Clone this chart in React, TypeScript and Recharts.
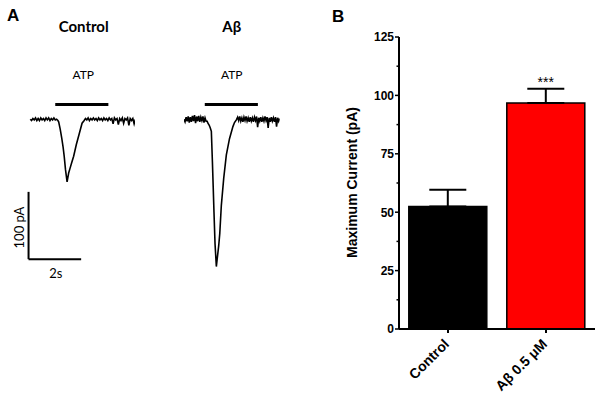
import React from 'react';
import {
  LineChart,
  Line,
  XAxis,
  YAxis,
  ReferenceLine,
  BarChart,
  Bar,
  Cell,
  ErrorBar,
  LabelList,
} from 'recharts';

// ---------- Panel A: ATP-evoked current traces (time in s, current in pA) ----------
const controlTime = [
  0, 0.05, 0.1, 0.15, 0.2, 0.25, 0.3, 0.35, 0.4, 0.45, 0.5, 0.55, 0.6, 0.65, 0.7, 0.75, 0.8, 0.85, 0.9, 0.95, 1.0,
  1.05, 1.08, 1.14, 1.2, 1.25, 1.29, 1.34, 1.4, 1.46, 1.52, 1.58, 1.65, 1.75, 1.86, 1.97, 2.05,
  2.1, 2.15, 2.2, 2.25, 2.3, 2.35, 2.4, 2.45, 2.5, 2.55, 2.6, 2.65, 2.7, 2.75, 2.8, 2.85, 2.9, 2.95, 3.0, 3.05,
  3.1, 3.15, 3.2, 3.25, 3.3, 3.35, 3.4, 3.45, 3.5, 3.55, 3.6, 3.65, 3.7, 3.75, 3.8, 3.85, 3.9, 3.95, 4.0,
];
const controlCurrent = [
  0, -2, 1, -1, 2, -2, 1, -2, 2, -1, 1, -2, 2, -1, 2, -2, 1, -1, 2, -1, 0,
  -2, -4, -15, -29, -42, -55, -75, -93, -80, -72, -64, -55, -38, -22, -6, -2,
  1, -1, 2, -2, 1, -1, 2, -1, 1, -2, 2, -1, 1, -2, 2, -1, 1, -2, 2, -1,
  1, -7, 2, -1, 1, -8, 1, -2, 2, -6, 1, -1, 2, -9, 1, -2, 1, -7, 0,
];

const abTime = [
  0, 0.04, 0.08, 0.12, 0.16, 0.2, 0.24, 0.28, 0.32, 0.36, 0.4, 0.44, 0.48, 0.52, 0.56, 0.6, 0.64, 0.68, 0.72, 0.76, 0.8, 0.84,
  0.88, 0.91, 0.96, 1.0, 1.04, 1.08, 1.11, 1.14, 1.18, 1.23, 1.27, 1.32, 1.36, 1.42, 1.51, 1.61, 1.73, 1.86, 1.92, 1.99,
  2.04, 2.08, 2.12, 2.16, 2.2, 2.24, 2.28, 2.32, 2.36, 2.4, 2.44, 2.48, 2.52, 2.56, 2.6, 2.64, 2.68, 2.72, 2.76, 2.8,
  2.84, 2.88, 2.92, 2.96, 3.0, 3.04, 3.08, 3.12, 3.16, 3.2, 3.24, 3.28, 3.32, 3.36, 3.4, 3.44, 3.48, 3.52, 3.56, 3.6, 3.64,
];
const abCurrent = [
  0, -4, 3, -3, 4, -5, 3, -4, 5, -3, 6, -6, 4, -3, 5, -4, 3, -2, 4, -5, 2, -3,
  -3, -6, -9, -13, -18, -63, -100, -138, -185, -219, -205, -188, -170, -128, -88, -53, -29, -11, -5, -1,
  3, -2, 4, -3, 2, -4, 3, -2, 4, -3, 2, -4, 3, -3, 2, -4, 3, -2, 4, -12,
  2, -3, 3, -4, 2, -3, 4, -2, 3, -13, 2, -4, 3, -3, 2, -4, 3, -11, 2, -3, 1,
];

const atpControl = [0.95, 2.97]; // s
const atpAb = [0.79, 2.81]; // s
const atpLevel = 22; // pA (drawn above the trace)
const scaleBarTime = 2; // s
const scaleBarCurrent = 100; // pA

// ---------- Panel B: maximum current ----------
const barCategories = ['Control', 'A\u03b2 0.5 \u03bcM'];
const barMeans = [52.4, 96.7];
const barSem = [7.2, 6.2];
const barColors = ['#000000', '#ff0000'];
const barSig = ['', '***'];
const yTicks = [0, 12.5, 25, 37.5, 50, 62.5, 75, 87.5, 100, 112.5, 125];

const controlData = controlTime.map((t, i) => ({ t, i: controlCurrent[i] }));
const abData = abTime.map((t, i) => ({ t, i: abCurrent[i] }));
const barData = barCategories.map((name, i) => ({
  name,
  mean: barMeans[i],
  err: [0, barSem[i]],
  sig: barSig[i],
}));

const PX_PER_S = 26.3;
const PX_PER_PA = 0.673;
const Y_DOMAIN: [number, number] = [-240, 30];
const BASELINE_Y = 119;

const traceTop = BASELINE_Y - Y_DOMAIN[1] * PX_PER_PA;
const traceHeight = (Y_DOMAIN[1] - Y_DOMAIN[0]) * PX_PER_PA;

const SANS_A = 'Lato, "Open Sans", sans-serif';
const SANS_B = '"Liberation Sans", Arial, sans-serif';

const YTick = (props: any) => {
  const { x, y, payload } = props;
  const v = payload.value as number;
  const major = v % 25 === 0;
  return (
    <g>
      <line x1={x - (major ? 4 : 2.5)} x2={x} y1={y} y2={y} stroke="#000" strokeWidth={1.5} />
      {major && (
        <text x={x - 5} y={y + 4.3} textAnchor="end" fontFamily={SANS_B} fontWeight="bold" fontSize={12} fill="#000">
          {v}
        </text>
      )}
    </g>
  );
};

const XTick = (props: any) => {
  const { x, y, payload } = props;
  const ax = x + 2;
  const ay = y + 16;
  return (
    <g>
      <line x1={x} x2={x} y1={y} y2={y + 4} stroke="#000" strokeWidth={2} />
      <text
        x={ax}
        y={ay}
        transform={`rotate(-45, ${ax}, ${ay})`}
        textAnchor="end"
        fontFamily={SANS_B}
        fontWeight="bold"
        fontSize={14}
        fill="#000"
      >
        {payload.value}
      </text>
    </g>
  );
};

const SigLabel = (props: any) => {
  const { x, y, width, value } = props;
  if (!value) return null;
  return (
    <text x={x + width / 2} y={y - 16.5} textAnchor="middle" fontFamily={SANS_B} fontSize={14} fill="#000">
      {value}
    </text>
  );
};

export default function App() {
  const ctrlXDomain: [number, number] = [-0.2, 4.0];
  const abXDomain: [number, number] = [0, 3.64];
  const sbX = -0.065;
  const sbBottom = -208;

  return (
    <div style={{ position: 'absolute', left: 0, top: 0, width: 602, height: 400, background: '#fff', overflow: 'hidden' }}>
      {/* Control trace */}
      <div style={{ position: 'absolute', left: 30 + ctrlXDomain[0] * PX_PER_S, top: traceTop }}>
        <LineChart
          width={(ctrlXDomain[1] - ctrlXDomain[0]) * PX_PER_S}
          height={traceHeight}
          data={controlData}
          margin={{ top: 0, right: 0, bottom: 0, left: 0 }}
        >
          <XAxis type="number" dataKey="t" domain={ctrlXDomain} hide allowDataOverflow />
          <YAxis type="number" domain={Y_DOMAIN} hide allowDataOverflow />
          <ReferenceLine
            segment={[{ x: atpControl[0], y: atpLevel }, { x: atpControl[1], y: atpLevel }]}
            stroke="#000"
            strokeWidth={3}
          />
          <ReferenceLine
            segment={[{ x: sbX, y: sbBottom + scaleBarCurrent }, { x: sbX, y: sbBottom }]}
            stroke="#000"
            strokeWidth={2}
          />
          <ReferenceLine
            segment={[{ x: sbX, y: sbBottom }, { x: sbX + scaleBarTime, y: sbBottom }]}
            stroke="#000"
            strokeWidth={2}
          />
          <Line type="linear" dataKey="i" stroke="#000" strokeWidth={1.6} dot={false} isAnimationActive={false} />
        </LineChart>
      </div>

      {/* Abeta trace */}
      <div style={{ position: 'absolute', left: 184, top: traceTop }}>
        <LineChart
          width={(abXDomain[1] - abXDomain[0]) * PX_PER_S}
          height={traceHeight}
          data={abData}
          margin={{ top: 0, right: 0, bottom: 0, left: 0 }}
        >
          <XAxis type="number" dataKey="t" domain={abXDomain} hide allowDataOverflow />
          <YAxis type="number" domain={Y_DOMAIN} hide allowDataOverflow />
          <ReferenceLine
            segment={[{ x: atpAb[0], y: atpLevel }, { x: atpAb[1], y: atpLevel }]}
            stroke="#000"
            strokeWidth={3}
          />
          <Line type="linear" dataKey="i" stroke="#000" strokeWidth={1.6} dot={false} isAnimationActive={false} />
        </LineChart>
      </div>

      {/* Panel B bar chart */}
      <div style={{ position: 'absolute', left: 300, top: 0 }}>
        <BarChart
          width={302}
          height={400}
          data={barData}
          margin={{ top: 37, right: 7, bottom: 11, left: 49 }}
          barCategoryGap="10%"
        >
          <XAxis
            dataKey="name"
            interval={0}
            height={60}
            tickSize={0}
            tickMargin={0}
            tickLine={false}
            axisLine={{ stroke: '#000', strokeWidth: 2 }}
            tick={<XTick />}
          />
          <YAxis
            type="number"
            domain={[0, 125]}
            ticks={yTicks}
            interval={0}
            width={50}
            tickSize={0}
            tickMargin={0}
            tickLine={false}
            axisLine={{ stroke: '#000', strokeWidth: 2 }}
            tick={<YTick />}
          />
          <Bar dataKey="mean" stroke="#000" strokeWidth={1.5} isAnimationActive={false}>
            {barData.map((d, i) => (
              <Cell key={d.name} fill={barColors[i]} />
            ))}
            <ErrorBar dataKey="err" width={18.5} stroke="#000" strokeWidth={2} direction="y" isAnimationActive={false} />
            <LabelList dataKey="sig" content={<SigLabel />} />
          </Bar>
        </BarChart>
      </div>

      {/* Text overlay */}
      <svg width={602} height={400} style={{ position: 'absolute', left: 0, top: 0, pointerEvents: 'none' }}>
        <text x={7} y={21} fontFamily={SANS_B} fontWeight="bold" fontSize={17} fill="#000">A</text>
        <text x={332} y={21.5} fontFamily={SANS_B} fontWeight="bold" fontSize={17} fill="#000">B</text>
        <text x={83.7} y={32.3} textAnchor="middle" fontFamily={SANS_A} fontWeight="bold" fontSize={15} fill="#000">Control</text>
        <text x={231.7} y={32.3} textAnchor="middle" fontFamily={SANS_A} fontWeight="bold" fontSize={15} fill="#000">{'A\u03b2'}</text>
        <text x={83.3} y={79} textAnchor="middle" fontFamily={SANS_A} fontSize={12} fill="#000">ATP</text>
        <text x={231.7} y={79} textAnchor="middle" fontFamily={SANS_A} fontSize={12} fill="#000">ATP</text>
        <text x={23.8} y={227.5} transform="rotate(-90, 23.8, 227.5)" textAnchor="middle" fontFamily={SANS_A} fontSize={13} fill="#000">100 pA</text>
        <text x={55.8} y={277.5} textAnchor="middle" fontFamily={SANS_A} fontSize={13} fill="#000">2s</text>
        <text x={357} y={182.5} transform="rotate(-90, 357, 182.5)" textAnchor="middle" fontFamily={SANS_B} fontWeight="bold" fontSize={14} fill="#000">Maximum Current (pA)</text>
      </svg>
    </div>
  );
}
